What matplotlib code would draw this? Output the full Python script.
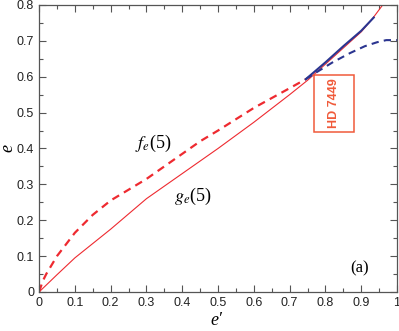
import numpy as np
import matplotlib.pyplot as plt
from matplotlib.ticker import MultipleLocator
from matplotlib.patches import Rectangle

plt.rcParams['mathtext.fontset'] = 'stix'

# g_e(5) -- thin solid red
g_x = [0, 0.05, 0.1, 0.2, 0.3, 0.4, 0.5, 0.6, 0.7, 0.75, 0.8, 0.85, 0.9, 0.93, 0.96]
g_y = [0, 0.048, 0.095, 0.175, 0.26, 0.33, 0.40, 0.473, 0.55, 0.59, 0.635, 0.68, 0.725, 0.76, 0.80]

# f_e(5) -- dashed red
f_x = [0, 0.01, 0.02, 0.05, 0.1, 0.15, 0.2, 0.3, 0.4, 0.45, 0.5, 0.6, 0.7, 0.745]
f_y = [0, 0.03, 0.05, 0.10, 0.165, 0.215, 0.255, 0.315, 0.385, 0.42, 0.45, 0.513, 0.568, 0.593]

# HD 7449 branch -- blue
bs_x = [0.745, 0.8, 0.85, 0.9, 0.935]
bs_y = [0.593, 0.64, 0.685, 0.728, 0.765]
bd_x = [0.745, 0.776, 0.82, 0.869, 0.91, 0.944, 0.97, 1.0]
bd_y = [0.593, 0.613, 0.64, 0.666, 0.685, 0.696, 0.702, 0.702]

red = '#ee2a30'
blue = '#2b3590'
orange = '#f05a3a'

fig = plt.figure(figsize=(3.99, 3.31), dpi=100)
ax = fig.add_axes([0.098, 0.118, 0.897, 0.867])

ax.plot(g_x, g_y, color=red, lw=0.8)
ax.plot(f_x, f_y, color=red, lw=1.6, dashes=(3.5, 2.5))
ax.plot(bs_x, bs_y, color=blue, lw=1.5)
ax.plot(bd_x, bd_y, color=blue, lw=1.5, dashes=(3.5, 2.5))

ax.set_xlim(0, 1)
ax.set_ylim(0, 0.8)
ax.set_xticks(np.arange(0, 1.01, 0.1))
ax.set_xticklabels(['0', '0.1', '0.2', '0.3', '0.4', '0.5', '0.6', '0.7', '0.8', '0.9', '1'])
ax.set_yticks(np.arange(0, 0.81, 0.1))
ax.set_yticklabels(['0', '0.1', '0.2', '0.3', '0.4', '0.5', '0.6', '0.7', '0.8'])
ax.xaxis.set_minor_locator(MultipleLocator(0.05))
ax.yaxis.set_minor_locator(MultipleLocator(0.05))
ax.tick_params(which='both', direction='in', top=True, right=True, color='#555555',
               labelsize=9, labelcolor='#222222')
ax.tick_params(which='major', length=5, width=0.8)
ax.tick_params(which='minor', length=3, width=0.8)
ax.tick_params(axis='x', pad=4)
for lbl in ax.get_xticklabels() + ax.get_yticklabels():
    lbl.set_family('Liberation Sans')
for s in ax.spines.values():
    s.set_color('#555555')
    s.set_linewidth(0.9)

ax.text(0.32, 0.415, r'$f_e$(5)', fontsize=13, family='Liberation Serif', ha='center', va='center')
ax.text(0.43, 0.265, r'$g_e$(5)', fontsize=13, family='Liberation Serif', ha='center', va='center')
ax.text(0.894, 0.067, '(a)', fontsize=12, family='Liberation Serif', ha='center', va='center')

ax.add_patch(Rectangle((0.768, 0.446), 0.112, 0.158, fc='white', ec=orange, lw=1.1, zorder=3))
ax.text(0.824, 0.525, 'HD 7449', rotation=90, color=orange, fontsize=9, fontweight='bold',
        family='Liberation Sans', ha='center', va='center', zorder=4)

ax.set_xlabel('e\u2032', fontsize=13, family='Liberation Serif', fontstyle='italic', va='center')
ax.set_ylabel('e', fontsize=13, family='Liberation Serif', fontstyle='italic', va='center')
ax.xaxis.set_label_coords(0.495, -0.1)
ax.yaxis.set_label_coords(-0.088, 0.5)

fig.savefig('out.png', dpi=100)
